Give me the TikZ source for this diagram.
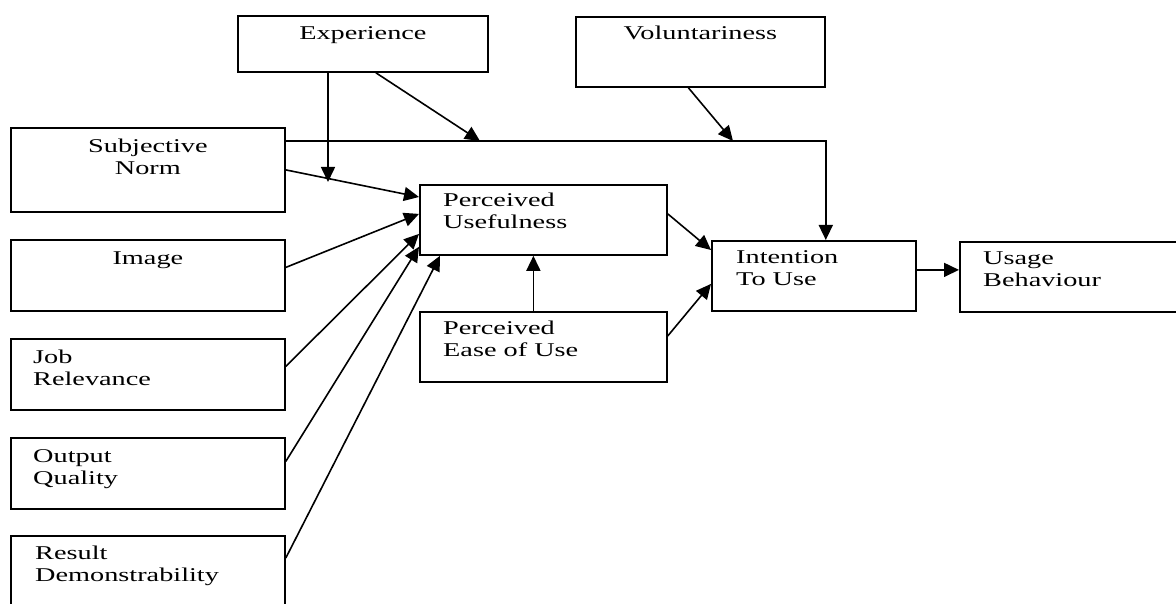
\documentclass[tikz,border=0pt]{standalone}
\usepackage{fontspec}
\setmainfont{Liberation Serif}[FakeStretch=1.45]
\usetikzlibrary{arrows.meta}

\begin{document}
\begin{tikzpicture}[x=1pt, y=-1pt,
    box/.style={draw, line width=1.8pt, anchor=north west, inner sep=0pt},
    lbl/.style={inner sep=0pt, align=left, font=\fontsize{19.5}{22}\selectfont},
    arr/.style={line width=1.6pt, -{Triangle[length=15pt, width=14pt]}}]

\useasboundingbox (0,0) rectangle (1176,604);
\clip (0,0) rectangle (1176,604);

% boxes
\node[box, minimum width=250, minimum height=56] (exp) at (237,15) {};
\node[box, minimum width=249, minimum height=70] (vol) at (575,16) {};
\node[box, minimum width=274, minimum height=84] (sn) at (10,127) {};
\node[box, minimum width=274, minimum height=71] (img) at (10,239) {};
\node[box, minimum width=274, minimum height=71] (job) at (10,338) {};
\node[box, minimum width=274, minimum height=71] (out) at (10,437) {};
\node[box, minimum width=274, minimum height=90] (res) at (10,535) {};
\node[box, minimum width=247, minimum height=70] (pu) at (419,184) {};
\node[box, minimum width=247, minimum height=70] (peou) at (419,311) {};
\node[box, minimum width=204, minimum height=70] (itu) at (711,240) {};
\node[box, minimum width=230, minimum height=70] (ub) at (959,241) {};

% labels (base = last line)
\node[lbl, anchor=base] (exp-t) at ([yshift=-25pt]exp.north) {Experience};
\node[lbl, anchor=base] (vol-t) at ([yshift=-24pt]vol.north) {Voluntariness};
\node[lbl, anchor=base, align=center] (sn-t) at ([yshift=-48pt]sn.north) {Subjective\\Norm};
\node[lbl, anchor=base] (img-t) at ([yshift=-26pt]img.north) {Image};
\node[lbl, anchor=base west] (job-t) at ([xshift=23pt, yshift=-47pt]job.north west) {Job\\Relevance};
\node[lbl, anchor=base west] (out-t) at ([xshift=23pt, yshift=-47pt]out.north west) {Output\\Quality};
\node[lbl, anchor=base west] (res-t) at ([xshift=25pt, yshift=-46pt]res.north west) {Result\\Demonstrability};
\node[lbl, anchor=base west] (pu-t) at ([xshift=24pt, yshift=-45pt]pu.north west) {Perceived\\Usefulness};
\node[lbl, anchor=base west] (peou-t) at ([xshift=24pt, yshift=-45pt]peou.north west) {Perceived\\Ease of Use};
\node[lbl, anchor=base west] (itu-t) at ([xshift=25pt, yshift=-46pt]itu.north west) {Intention\\To Use};
\node[lbl, anchor=base west] (ub-t) at ([xshift=24pt, yshift=-46pt]ub.north west) {Usage\\Behaviour};

% moderator points
\coordinate (jA) at (480,141);
\coordinate (jB) at (733,141);
\coordinate (jC) at (328,182);

% connectors
\draw[arr] ([yshift=-14pt]sn.north east) -| (itu.north -| vol.east);
\draw[arr] ([xshift=13pt]exp.south) -- (jA);
\draw[arr] (exp.south -| jC) -- (jC);
\draw[arr] ([xshift=-12pt]vol.south) -- (jB);
\draw[arr] (sn.east) -- ([yshift=-13pt]pu.north west);
\draw[arr] ([yshift=8pt]img.east) -- ([yshift=6pt]pu.west);
\draw[arr] ([yshift=8pt]job.east) -- ([yshift=-14pt]pu.west);
\draw[arr] ([yshift=12pt]out.east) -- ([yshift=9pt]pu.south west);
\draw[arr] ([yshift=-23pt]res.north east) -- ([xshift=21pt]pu.south west);
\draw[arr] ([xshift=-10pt]peou.north) -- ([xshift=-10pt]pu.south);
\draw[arr] ([yshift=6pt]pu.east) -- ([yshift=-10pt]itu.north west);
\draw[arr] ([yshift=11pt]peou.east) -- ([yshift=-8pt]itu.west);
\draw[arr] ([yshift=6pt]itu.east) -- ([yshift=6pt]itu.east -| ub.west);

\end{tikzpicture}
\end{document}
